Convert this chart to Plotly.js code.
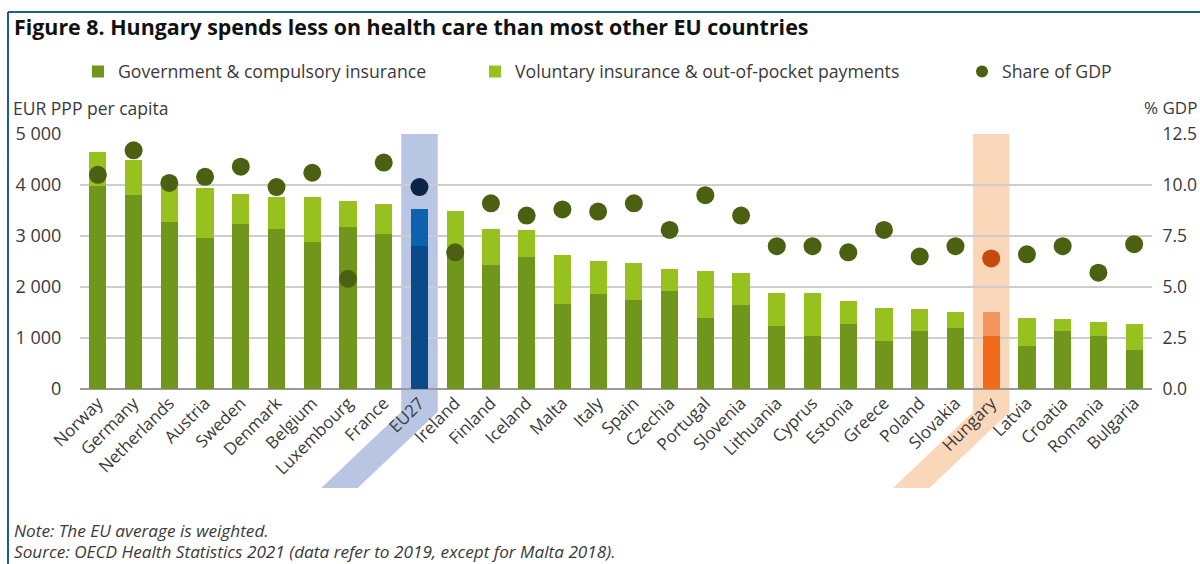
<!DOCTYPE html>
<html>
<head>
<meta charset="utf-8">
<script src="https://cdn.plot.ly/plotly-3.0.1.min.js"></script>
<style>
  html, body { margin: 0; padding: 0; background: #ffffff; }
  #chart { width: 1200px; height: 564px; }
</style>
</head>
<body>
<div id="chart"></div>
<script>
// ---- Data ----
const countries = ["Norway","Germany","Netherlands","Austria","Sweden","Denmark","Belgium","Luxembourg","France","EU27",
  "Ireland","Finland","Iceland","Malta","Italy","Spain","Czechia","Portugal","Slovenia","Lithuania",
  "Cyprus","Estonia","Greece","Poland","Slovakia","Hungary","Latvia","Croatia","Romania","Bulgaria"];

// EUR PPP per capita, total health spending
const totalSpending = [4655,4490,3970,3935,3825,3770,3765,3685,3635,3520,
  3500,3145,3125,2635,2515,2480,2350,2305,2270,1880,
  1875,1730,1590,1575,1505,1505,1400,1380,1305,1265];

// Government & compulsory insurance part
const govCompulsory = [3980,3800,3265,2960,3240,3135,2880,3170,3040,2795,
  2640,2440,2580,1665,1860,1750,1925,1400,1645,1230,
  1045,1270,935,1130,1200,1030,850,1130,1045,760];

// Share of GDP (%)
const shareGDP = [10.5,11.7,10.1,10.4,10.9,9.9,10.6,5.4,11.1,9.9,
  6.7,9.1,8.5,8.8,8.7,9.1,7.8,9.5,8.5,7.0,
  7.0,6.7,7.8,6.5,7.0,6.4,6.6,7.0,5.7,7.1];

// Voluntary insurance & out-of-pocket = total - government part
const voluntaryOOP = totalSpending.map((t, i) => t - govCompulsory[i]);

const leftTicks = [0, 1000, 2000, 3000, 4000, 5000];
const rightTicks = [0, 2.5, 5, 7.5, 10, 12.5];

// ---- Styling ----
const GREEN_DARK = "#71961c";
const GREEN_LIGHT = "#97c11f";
const DOT_GREEN = "#4b6111";
const EU_GOV = "#0b4a8a", EU_VOL = "#0d62ae", EU_DOT = "#0c2546";
const HU_GOV = "#f26a1b", HU_VOL = "#f5965d", HU_DOT = "#c64a0b";
const EU_BAND = "#b8c6e4", HU_BAND = "#fbd7ba";
const FONT = "Open Sans, Noto Sans, sans-serif";
const TXT = "#3a3a3a";

const euIdx = countries.indexOf("EU27");
const huIdx = countries.indexOf("Hungary");

function colorsFor(base, eu, hu) {
  return countries.map((c, i) => i === euIdx ? eu : (i === huIdx ? hu : base));
}

const traces = [
  {
    type: "bar", name: "Government & compulsory insurance",
    x: countries, y: govCompulsory,
    marker: { color: colorsFor(GREEN_DARK, EU_GOV, HU_GOV) },
    width: 0.48, legend: "legend", hoverinfo: "x+y"
  },
  {
    type: "bar", name: "Voluntary insurance & out-of-pocket payments",
    x: countries, y: voluntaryOOP,
    marker: { color: colorsFor(GREEN_LIGHT, EU_VOL, HU_VOL) },
    width: 0.48, legend: "legend2", hoverinfo: "x+y"
  },
  {
    type: "scatter", mode: "markers", name: "Share of GDP",
    x: countries, y: shareGDP, yaxis: "y2",
    marker: { size: 18, color: colorsFor(DOT_GREEN, EU_DOT, HU_DOT) },
    legend: "legend3", hoverinfo: "x+y"
  }
];

// ---- Geometry (pixels -> paper) ----
const W = 1200, H = 564;
const M = { l: 80, r: 48, t: 134, b: 175 };
const plotW = W - M.l - M.r, plotH = H - M.t - M.b;
const px2x = px => (px - M.l) / plotW;
const py2y = py => (H - M.b - py) / plotH;
const catCenterPx = i => M.l + plotW * (i + 0.5) / countries.length;

function bandPath(i) {
  const cx = catCenterPx(i);
  const hw = plotW / countries.length * 0.51;
  const yTop = M.t, yBend = H - M.b + 23, yBot = H - M.b + 99, shift = 80;
  const pts = [
    [cx - hw, yTop], [cx + hw, yTop], [cx + hw, yBend],
    [cx + hw - shift, yBot], [cx - hw - shift, yBot], [cx - hw, yBend]
  ];
  return "M" + pts.map(p => px2x(p[0]).toFixed(5) + "," + py2y(p[1]).toFixed(5)).join(" L") + " Z";
}

const shapes = [
  { type: "path", xref: "paper", yref: "paper", path: bandPath(euIdx), fillcolor: EU_BAND, line: { width: 0 }, layer: "below" },
  { type: "path", xref: "paper", yref: "paper", path: bandPath(huIdx), fillcolor: HU_BAND, line: { width: 0 }, layer: "below" },
  // frame: top and left border
  { type: "line", xref: "paper", yref: "paper", x0: px2x(8), x1: px2x(1200), y0: py2y(12), y1: py2y(12), line: { color: "#1d5f8c", width: 2 } },
  { type: "line", xref: "paper", yref: "paper", x0: px2x(8), x1: px2x(8), y0: py2y(12), y1: py2y(564), line: { color: "#1d5f8c", width: 2 } }
];

const annotations = [
  { xref: "paper", yref: "paper", x: px2x(11), y: py2y(108), xanchor: "left", yanchor: "middle", showarrow: false,
    text: "EUR PPP per capita", font: { family: FONT, size: 17.5, color: TXT } },
  { xref: "paper", yref: "paper", x: px2x(1199), y: py2y(108), xanchor: "right", yanchor: "middle", showarrow: false,
    text: "% GDP", font: { family: FONT, size: 17, color: TXT } },
  { xref: "paper", yref: "paper", x: px2x(12), y: py2y(530), xanchor: "left", yanchor: "middle", showarrow: false,
    text: "<i>Note: The EU average is weighted.</i>", font: { family: FONT, size: 17.2, color: TXT } },
  { xref: "paper", yref: "paper", x: px2x(12), y: py2y(551), xanchor: "left", yanchor: "middle", showarrow: false,
    text: "<i>Source: OECD Health Statistics 2021 (data refer to 2019, except for Malta 2018).</i>", font: { family: FONT, size: 17.2, color: TXT } }
];

const legendBase = {
  orientation: "h", yref: "paper", y: py2y(72), yanchor: "middle", xanchor: "left",
  bgcolor: "rgba(0,0,0,0)", font: { family: FONT, size: 17.7, color: TXT },
  itemwidth: 30, borderwidth: 0, itemsizing: "constant"
};

const layout = {
  width: W, height: H,
  margin: M,
  paper_bgcolor: "#ffffff",
  plot_bgcolor: "rgba(0,0,0,0)",
  barmode: "stack",
  bargap: 0.5,
  title: {
    text: "<b>Figure 8. Hungary spends less on health care than most other EU countries</b>",
    xref: "container", yref: "container", x: 14 / W, y: 1 - 28 / H, xanchor: "left", yanchor: "middle",
    font: { family: FONT, size: 21.4, color: "#111111" }
  },
  font: { family: FONT, size: 16, color: TXT },
  xaxis: {
    type: "category", tickangle: -45, showgrid: false, showline: false, ticks: "",
    tickfont: { family: FONT, size: 17, color: TXT }, range: [-0.5, countries.length - 0.5], fixedrange: true
  },
  yaxis: {
    range: [0, 5000], tickvals: leftTicks, separatethousands: true,
    showgrid: true, gridcolor: "#cdcdcd", gridwidth: 1.5,
    zeroline: true, zerolinecolor: "#9a9a9a", zerolinewidth: 2,
    ticks: "outside", ticklen: 14, tickcolor: "rgba(0,0,0,0)",
    tickfont: { family: FONT, size: 18, color: TXT }, fixedrange: true
  },
  yaxis2: {
    overlaying: "y", side: "right", range: [0, 12.5], tickvals: rightTicks, tickformat: ".1f",
    showgrid: false, zeroline: false,
    ticks: "outside", ticklen: 6, tickcolor: "rgba(0,0,0,0)",
    tickfont: { family: FONT, size: 17.5, color: TXT }, fixedrange: true
  },
  separators: ". ",
  showlegend: true,
  legend: Object.assign({}, legendBase, { x: px2x(78) }),
  legend2: Object.assign({}, legendBase, { x: px2x(475) }),
  legend3: Object.assign({}, legendBase, { x: px2x(962) }),
  shapes: shapes,
  annotations: annotations
};

Plotly.newPlot("chart", traces, layout, { displayModeBar: false, staticPlot: true });
</script>
</body>
</html>
